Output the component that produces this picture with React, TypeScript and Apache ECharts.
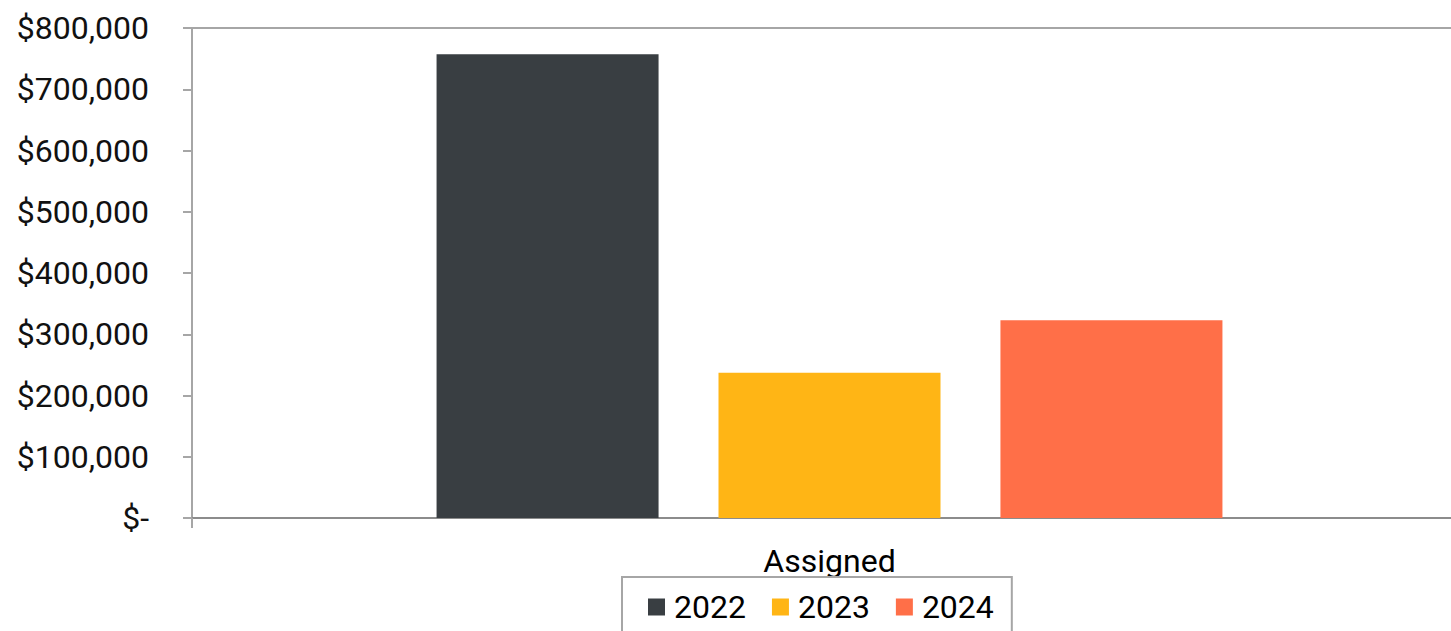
import React, { useEffect, useRef } from "react";
import * as echarts from "echarts";

const categories = ["Assigned"];
const seriesNames = ["2022", "2023", "2024"];
const values2022 = [757000];
const values2023 = [237000];
const values2024 = [323000];
const colors = ["#393E42", "#FFB515", "#FF6F48"];
const yMax = 800000;
const yInterval = 100000;

function fmt(v: number): string {
  if (v === 0) return "{z|$-}";
  return "$" + v.toLocaleString("en-US");
}

export default function App() {
  const ref = useRef<HTMLDivElement>(null);
  useEffect(() => {
    if (!ref.current) return;
    const chart = echarts.init(ref.current, undefined, { renderer: "svg" });
    const seriesData = [values2022, values2023, values2024];
    chart.setOption({
      animation: false,
      textStyle: { fontFamily: "Roboto" },
      grid: { left: 192, top: 28, bottom: 113, right: 16, containLabel: false },
      legend: {
        data: seriesNames,
        left: 622,
        top: 577,
        orient: "horizontal",
        icon: "rect",
        itemWidth: 17,
        itemHeight: 17,
        itemGap: 26,
        padding: [14, 18, 14, 26],
        borderColor: "#A6A6A6",
        borderWidth: 2,
        textStyle: { fontSize: 32, color: "#000", fontFamily: "Roboto", padding: [0, 0, 0, 4] },
      },
      xAxis: [
        {
          type: "category",
          data: categories,
          position: "bottom",
          axisLine: { show: true, lineStyle: { color: "#8C8C8C", width: 2 } },
          axisTick: { show: true, length: 10, lineStyle: { color: "#A6A6A6", width: 2 } },
          axisLabel: { fontSize: 32, color: "#000", margin: 27, fontFamily: "Roboto" },
          splitLine: { show: false },
        },
        {
          type: "category",
          data: categories,
          position: "top",
          axisLine: { show: true, lineStyle: { color: "#A6A6A6", width: 2 } },
          axisTick: { show: false },
          axisLabel: { show: false },
          splitLine: { show: false },
        },
      ],
      yAxis: {
        type: "value",
        min: 0,
        max: yMax,
        interval: yInterval,
        axisLine: { show: true, lineStyle: { color: "#A6A6A6", width: 2 } },
        axisTick: { show: true, length: 9, lineStyle: { color: "#A6A6A6", width: 2 } },
        splitLine: { show: false },
        axisLabel: {
          fontSize: 32,
          color: "#111",
          margin: 43,
          fontFamily: "Roboto",
          formatter: fmt,
          rich: { z: { fontSize: 32, color: "#111", fontFamily: "Roboto", padding: [0, 0, 0, 0] } },
        },
      },
      series: seriesNames.map((name, i) => ({
        name,
        type: "bar",
        data: seriesData[i],
        barWidth: 222,
        barGap: "27%",
        itemStyle: { color: colors[i] },
      })),
    });
    return () => chart.dispose();
  }, []);
  return (
    <div
      style={{
        position: "fixed",
        left: 0,
        top: 0,
        width: 1451,
        height: 631,
        overflow: "hidden",
        background: "#fff",
      }}
    >
      <div ref={ref} style={{ width: 1483, height: 631 }} />
    </div>
  );
}
